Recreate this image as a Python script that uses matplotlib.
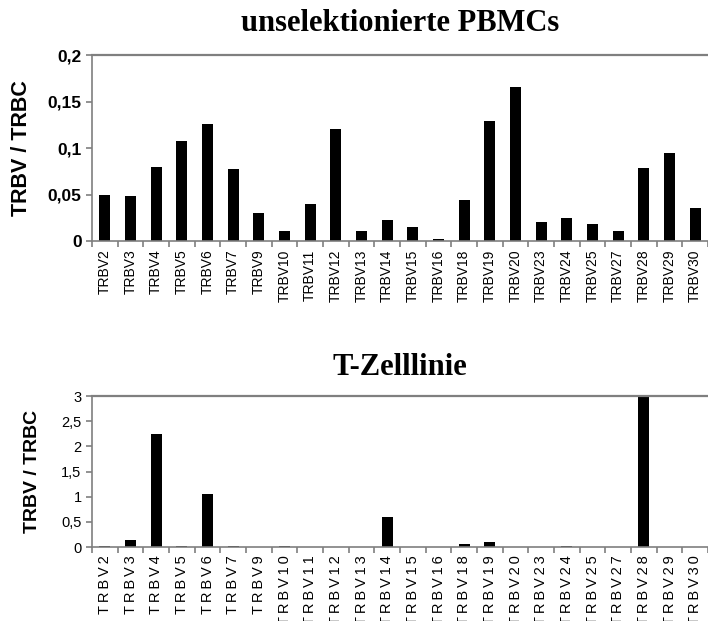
import matplotlib
matplotlib.use("Agg")
import matplotlib.pyplot as plt
import numpy as np

# TRBV segments
labels = ["TRBV2", "TRBV3", "TRBV4", "TRBV5", "TRBV6", "TRBV7", "TRBV9", "TRBV10",
          "TRBV11", "TRBV12", "TRBV13", "TRBV14", "TRBV15", "TRBV16", "TRBV18",
          "TRBV19", "TRBV20", "TRBV23", "TRBV24", "TRBV25", "TRBV27", "TRBV28",
          "TRBV29", "TRBV30"]

# unselektionierte PBMCs
pbmc = [0.049, 0.048, 0.080, 0.108, 0.126, 0.077, 0.030, 0.011, 0.040, 0.121,
        0.011, 0.023, 0.015, 0.002, 0.044, 0.129, 0.166, 0.020, 0.025, 0.018,
        0.011, 0.079, 0.095, 0.035]

# T-Zelllinie
tcell = [0.02, 0.14, 2.24, 0.02, 1.055, 0.02, 0.0, 0.02, 0.0, 0.0,
         0.0, 0.6, 0.0, 0.0, 0.06, 0.1, 0.0, 0.0, 0.02, 0.0,
         0.0, 3.0, 0.0, 0.0]

GRAY = "#7f7f7f"
SANS = "Liberation Sans"
SERIF = "Liberation Serif"

fig = plt.figure(figsize=(7.08, 6.21), dpi=100)
ax1 = fig.add_axes([0.130, 0.612, 0.870, 0.299])
ax2 = fig.add_axes([0.130, 0.119, 0.870, 0.243])

x = np.arange(len(labels))


def style(ax):
    ax.set_xlim(-0.5, 23.19)
    ax.spines["right"].set_visible(False)
    for s in ["left", "bottom", "top"]:
        ax.spines[s].set_color(GRAY)
        ax.spines[s].set_linewidth(1.2)
    ax.spines["top"].set_linewidth(1.6)
    ax.set_xticks(x)
    ax.set_xticks(np.arange(-0.5, len(labels), 1.0), minor=True)
    ax.tick_params(axis="x", which="major", length=0, pad=6)
    ax.tick_params(axis="x", which="minor", length=4, color=GRAY, width=1.2)
    ax.tick_params(axis="y", length=4, color=GRAY, width=1.2)


# top panel
ax1.bar(x, pbmc, width=0.42, color="black")
style(ax1)
ax1.set_ylim(0, 0.2)
ax1.set_yticks([0, 0.05, 0.1, 0.15, 0.2])
ax1.set_yticklabels(["0", "0,05", "0,1", "0,15", "0,2"], fontfamily=SANS,
                    fontsize=12.5, fontweight="bold")
ax1.set_xticklabels(labels, rotation=90, fontfamily=SANS, fontsize=10)
ax1.set_ylabel("TRBV / TRBC", fontfamily=SANS, fontsize=15.5, fontweight="bold")
ax1.yaxis.set_label_coords(-0.097, 0.5)
fig.text(0.565, 0.962, "unselektionierte PBMCs", ha="center", va="center",
         fontfamily=SERIF, fontsize=22, fontweight="bold")

# bottom panel
ax2.bar(x, tcell, width=0.42, color="black")
style(ax2)
ax2.set_ylim(0, 3)
ax2.set_yticks([0, 0.5, 1, 1.5, 2, 2.5, 3])
ax2.set_yticklabels(["0", "0,5", "1", "1,5", "2", "2,5", "3"], fontfamily=SANS,
                    fontsize=10.5)
spaced = ["\u2009".join(lab) for lab in labels]
ax2.set_xticklabels(spaced, rotation=90, fontfamily=SANS, fontsize=10.5)
ax2.set_ylabel("TRBV / TRBC", fontfamily=SANS, fontsize=14, fontweight="bold")
ax2.yaxis.set_label_coords(-0.083, 0.5)
fig.text(0.565, 0.408, "T-Zelllinie", ha="center", va="center",
         fontfamily=SERIF, fontsize=22, fontweight="bold")

fig.savefig("out.png", dpi=100)
